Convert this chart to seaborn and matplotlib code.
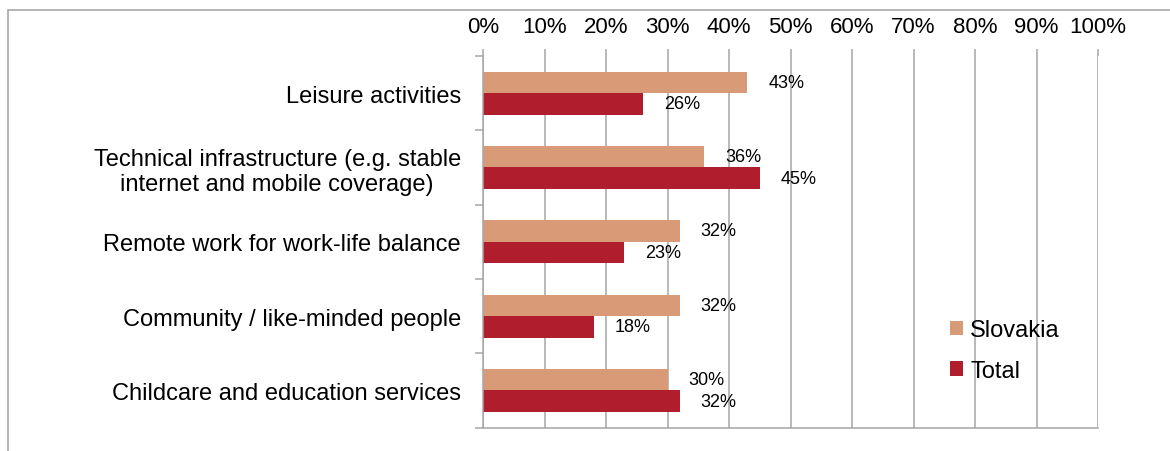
import matplotlib.pyplot as plt                                      # Drawing the figure.
from matplotlib.lines import Line2D                                  # For the outer frame of the chart.
import seaborn as sns                                                # Bars through seaborn.
import pandas as pd                                                  # Long-form dataframe for seaborn.

# ============================================================ #
# DATA                        #
# ============================================================ #

categories = [
    "Leisure activities",
    "Technical infrastructure (e.g. stable\ninternet and mobile coverage)",
    "Remote work for work-life balance",
    "Community / like-minded people",
    "Childcare and education services",
]
slovakia = [43, 36, 32, 32, 30]                                      # Share in percent, Slovakia.
total = [26, 45, 23, 18, 32]                                         # Share in percent, all countries.
series_names = ["Slovakia", "Total"]
x_ticks = list(range(0, 101, 10))

colors = ["#D99A78", "#B01E2E"]
grid_grey = "#A6A6A6"

# ============================================================ #
# DATAFRAME                                                    #
# ============================================================ #

rows = []
for cat, s, t in zip(categories, slovakia, total):
    rows.append({"Factor": cat, "Series": series_names[0], "Share": s})
    rows.append({"Factor": cat, "Series": series_names[1], "Share": t})
df = pd.DataFrame(rows)

# ============================================================ #
# PLOT                                                         #
# ============================================================ #

sns.set_style("white")
plt.rcParams['font.family'] = ['Liberation Sans', 'DejaVu Sans']     # Arial-like look, set after seaborn style.
plt.rcParams['text.color'] = 'black'                                 # seaborn makes text dark grey, reference is black.
plt.rcParams['xtick.labelcolor'] = 'black'
plt.rcParams['ytick.labelcolor'] = 'black'

fig = plt.figure(figsize=(11.7, 4.52), dpi=100)
ax = fig.add_axes([483 / 1170, 23.5 / 452, 615 / 1170, 371.5 / 452])

sns.barplot(
    data=df, y="Factor", x="Share", hue="Series",
    order=categories, hue_order=series_names,
    palette=colors, saturation=1, width=0.58,
    orient="h", linewidth=0, ax=ax
)

for cont, vals in zip(ax.containers, [slovakia, total]):            # Value labels to the right of each bar.
    ax.bar_label(cont, labels=[f"{v}%" for v in vals], padding=15, fontsize=13, color="black")

ax.set_xlim(0, 100)
ax.set_ylim(4.5, -0.5)
ax.set_xticks(x_ticks)
ax.set_xticklabels([f"{v}%" for v in x_ticks])
ax.xaxis.tick_top()
ax.set_xlabel("")
ax.set_ylabel("")

ax.tick_params(axis="x", which="major", top=True, length=5, width=1.1, color=grid_grey,
               pad=9, labelsize=16, direction="out", labelcolor="black")
ax.tick_params(axis="y", which="major", length=0, pad=16, labelsize=17, labelcolor="black")
ax.set_yticks([i - 0.5 for i in range(len(categories) + 1)], minor=True)
ax.tick_params(axis="y", which="minor", left=True, length=6, width=1.1, color=grid_grey, direction="out")
for lbl in ax.get_yticklabels():
    lbl.set_multialignment("center")

ax.grid(True, axis="x", color=grid_grey, lw=1.1)
ax.set_axisbelow(True)
for side in ["top", "right"]:
    ax.spines[side].set_visible(False)
for side in ["left", "bottom"]:
    ax.spines[side].set_color(grid_grey)
    ax.spines[side].set_linewidth(1.1)

handles, labels = ax.get_legend_handles_labels()
leg = ax.legend(handles, labels, loc="center left", bbox_to_anchor=(950 / 1170, 1 - 351.5 / 452),
                bbox_transform=fig.transFigure, frameon=False, fontsize=17,
                handlelength=0.55, handleheight=0.55, handletextpad=0.3,
                labelspacing=0.8, borderpad=0, borderaxespad=0)
for txt in leg.get_texts():
    txt.set_color("black")

# Outer grey frame (top and left edges visible in the picture)
fig.add_artist(Line2D([8 / 1170, 1], [1 - 11 / 452, 1 - 11 / 452], transform=fig.transFigure,
                      color="#A0A0A0", lw=1.1))
fig.add_artist(Line2D([8 / 1170, 8 / 1170], [0, 1 - 11 / 452], transform=fig.transFigure,
                      color="#A0A0A0", lw=1.1))

fig.savefig("out.png", dpi=100)
